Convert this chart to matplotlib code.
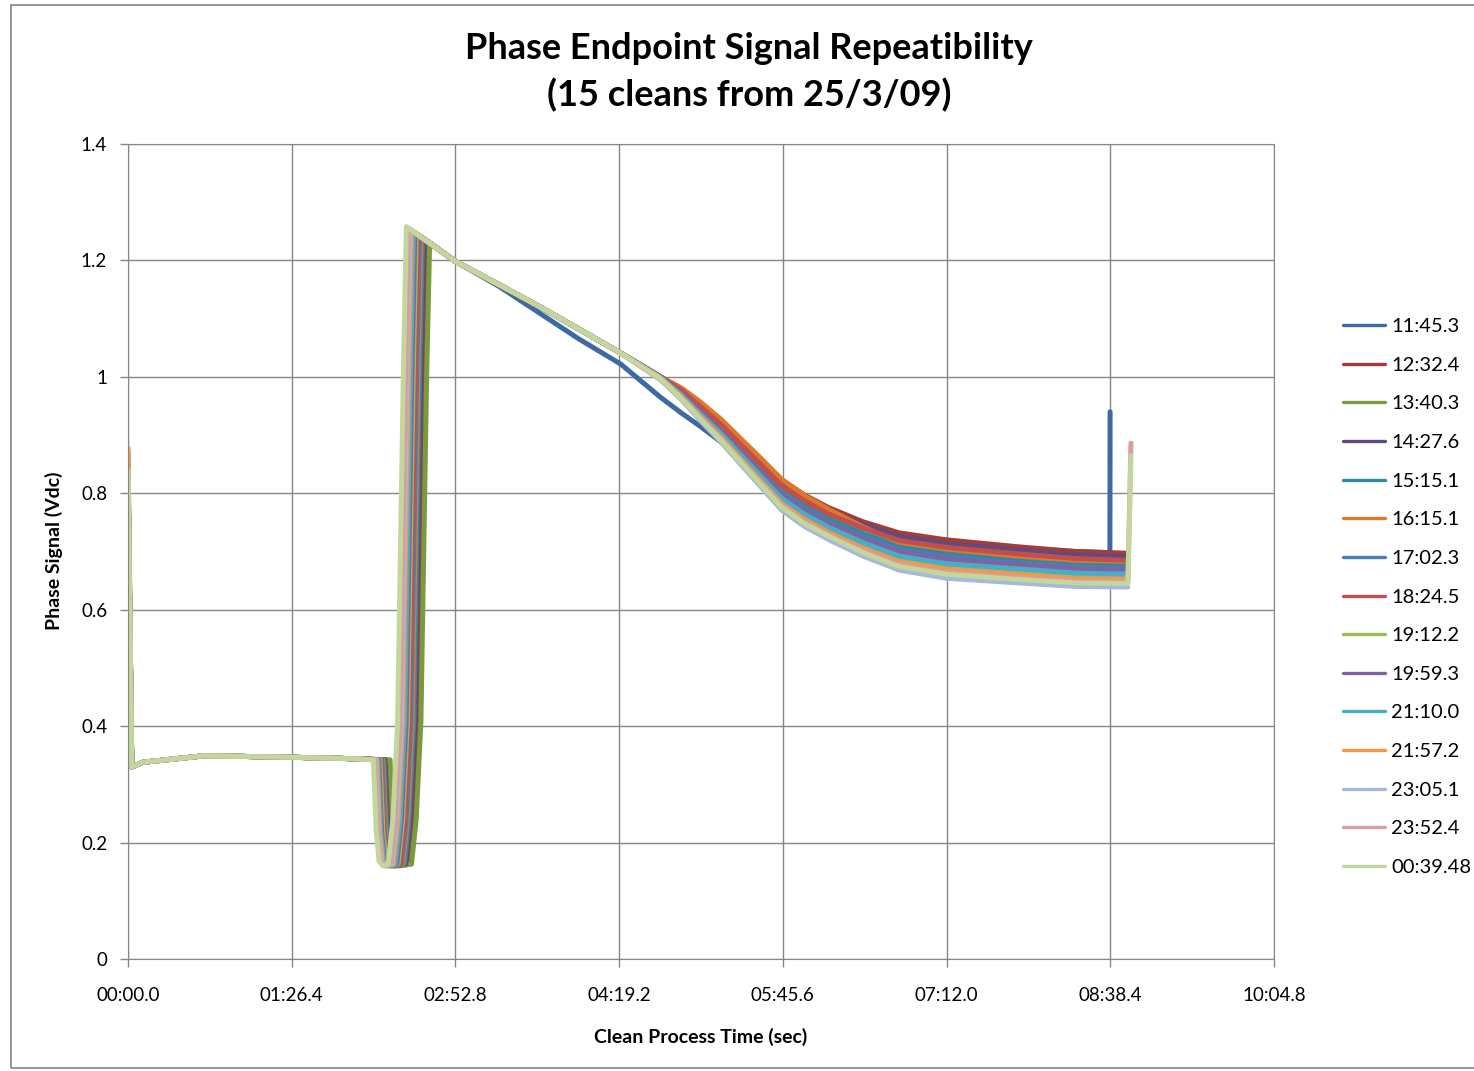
import matplotlib.pyplot as plt
from matplotlib.patches import Rectangle
from matplotlib.ticker import FuncFormatter, MultipleLocator

plt.rcParams['font.family'] = ['Lato', 'DejaVu Sans']

labels = ['11:45.3', '12:32.4', '13:40.3', '14:27.6', '15:15.1', '16:15.1', '17:02.3', '18:24.5',
          '19:12.2', '19:59.3', '21:10.0', '21:57.2', '23:05.1', '23:52.4', '00:39.48']
colors = ['#3d6aa4', '#a33d3a', '#7a9a3e', '#604a80', '#3189a0', '#e0782a', '#4a7ebb', '#c0504d',
          '#9bbb59', '#8064a2', '#4bacc6', '#f79646', '#a5b9da', '#d99e9c', '#c3d69b']

# first stage: spike at t=0, then the flat part (seconds / Vdc)
start_v = [0.83, 0.83, 0.835, 0.83, 0.845, 0.87, 0.83, 0.83, 0.86, 0.83, 0.845, 0.878, 0.83, 0.83, 0.84]
plateau_t = [2, 8, 40, 80, 120]
plateau_v = [0.330, 0.338, 0.349, 0.347, 0.344]

# dip and rise around 2:10 - 2:40
drop_t = [136.0, 137.0, 138.3, 135.5, 135.0, 134.5, 134.0, 133.5, 133.0, 132.3, 131.8, 131.3, 130.8, 130.2, 129.5]
rise_t = [155.3, 156.5, 157.6, 154.5, 153.8, 153.0, 152.3, 151.5, 150.5, 149.8, 149.0, 148.0, 147.3, 146.5, 145.3]
peak_v = [1.235, 1.233, 1.230, 1.237, 1.239, 1.240, 1.242, 1.244, 1.246, 1.248, 1.249, 1.252, 1.253, 1.255, 1.258]
fall_dt = [0, 1.5, 3, 5]
fall_v = [0.342, 0.22, 0.168, 0.160]
rise_dt = [-8, -5.5, -3, 0, 1.6]
rise_v = [0.163, 0.24, 0.41, 1.0]

# decay after the peak
decay_t = [173, 196, 217, 238, 260, 281, 292, 302, 313, 323, 334, 345, 357, 370, 388, 407, 432, 470, 500]
decay_v = [
    [1.198, 1.155, 1.110, 1.065, 1.022, 0.965, 0.938, 0.915, 0.888, 0.862, 0.834, 0.806, 0.784, 0.765, 0.744, 0.728, 0.717, 0.706, 0.700],
    [1.198, 1.158, 1.121, 1.082, 1.041, 1.000, 0.980, 0.955, 0.925, 0.893, 0.858, 0.823, 0.797, 0.775, 0.751, 0.732, 0.720, 0.708, 0.700],
    [1.198, 1.158, 1.121, 1.082, 1.041, 1.000, 0.972, 0.939, 0.904, 0.870, 0.832, 0.794, 0.767, 0.745, 0.719, 0.697, 0.684, 0.674, 0.667],
    [1.198, 1.158, 1.121, 1.082, 1.041, 1.000, 0.978, 0.952, 0.921, 0.889, 0.853, 0.818, 0.792, 0.770, 0.746, 0.726, 0.713, 0.702, 0.694],
    [1.198, 1.158, 1.121, 1.082, 1.041, 1.000, 0.974, 0.945, 0.912, 0.878, 0.841, 0.805, 0.778, 0.756, 0.731, 0.710, 0.697, 0.686, 0.679],
    [1.198, 1.158, 1.121, 1.082, 1.041, 1.000, 0.981, 0.957, 0.927, 0.895, 0.860, 0.824, 0.796, 0.772, 0.742, 0.716, 0.704, 0.692, 0.685],
    [1.198, 1.158, 1.121, 1.082, 1.041, 1.000, 0.973, 0.942, 0.908, 0.874, 0.837, 0.800, 0.773, 0.750, 0.724, 0.703, 0.690, 0.680, 0.673],
    [1.198, 1.158, 1.121, 1.082, 1.041, 1.000, 0.977, 0.949, 0.918, 0.885, 0.849, 0.813, 0.787, 0.764, 0.740, 0.719, 0.707, 0.696, 0.688],
    [1.198, 1.158, 1.121, 1.082, 1.041, 0.998, 0.968, 0.934, 0.899, 0.864, 0.825, 0.787, 0.760, 0.737, 0.710, 0.687, 0.674, 0.665, 0.658],
    [1.198, 1.158, 1.121, 1.082, 1.041, 1.000, 0.972, 0.940, 0.906, 0.872, 0.835, 0.797, 0.770, 0.748, 0.722, 0.700, 0.687, 0.677, 0.670],
    [1.198, 1.158, 1.121, 1.082, 1.041, 0.999, 0.969, 0.936, 0.902, 0.867, 0.829, 0.791, 0.764, 0.741, 0.715, 0.692, 0.679, 0.670, 0.663],
    [1.198, 1.158, 1.121, 1.082, 1.041, 0.998, 0.966, 0.932, 0.896, 0.860, 0.821, 0.782, 0.755, 0.732, 0.705, 0.682, 0.669, 0.660, 0.653],
    [1.198, 1.158, 1.121, 1.082, 1.041, 0.995, 0.961, 0.925, 0.888, 0.851, 0.811, 0.771, 0.743, 0.720, 0.692, 0.668, 0.654, 0.646, 0.640],
    [1.198, 1.158, 1.121, 1.082, 1.041, 0.996, 0.964, 0.930, 0.893, 0.857, 0.818, 0.779, 0.751, 0.728, 0.701, 0.678, 0.664, 0.655, 0.649],
    [1.198, 1.158, 1.121, 1.082, 1.041, 0.997, 0.963, 0.928, 0.891, 0.855, 0.815, 0.776, 0.748, 0.726, 0.698, 0.674, 0.661, 0.652, 0.646],
]
end_t = [518.2] + [527.7] * 14
end_v = [0.698, 0.697, 0.665, 0.691, 0.677, 0.683, 0.671, 0.685, 0.656, 0.668, 0.661, 0.652, 0.639, 0.648, 0.645]
tail_t = [518.3, None, None, None, None, None, None, None, None, None, None, None, None, 529.3, 529.3]
tail_v = [0.940, None, None, None, None, None, None, None, None, None, None, None, None, 0.886, 0.865]

fig = plt.figure(figsize=(14.74, 10.71), dpi=100)
ax = fig.add_axes([128 / 1474, 1 - 959 / 1071, 1146 / 1474, 815 / 1071])

for i, lab in enumerate(labels):
    t = [0] + plateau_t + [drop_t[i] + d for d in fall_dt] + [rise_t[i] + d for d in rise_dt] + decay_t + [end_t[i]]
    v = [start_v[i]] + plateau_v + fall_v + rise_v + [peak_v[i]] + decay_v[i] + [end_v[i]]
    if tail_t[i] is not None:
        t.append(tail_t[i])
        v.append(tail_v[i])
    ax.plot(t, v, color=colors[i], lw=3.6, label=lab, solid_joinstyle='round', solid_capstyle='round')

grid_c = '#868686'
ax.set_xlim(0, 604.8)
ax.set_ylim(0, 1.4)
ax.xaxis.set_major_locator(MultipleLocator(86.4))
ax.yaxis.set_major_locator(MultipleLocator(0.2))


def mmss(s, pos):
    m = int(round(s, 1) // 60)
    return f'{m:02d}:{s - 60 * m:04.1f}'


ax.xaxis.set_major_formatter(FuncFormatter(mmss))
ax.yaxis.set_major_formatter(FuncFormatter(lambda y, p: f'{y:g}'))
ax.grid(True, color=grid_c, lw=1)
ax.set_axisbelow(True)
for s in ax.spines.values():
    s.set_color(grid_c)
ax.tick_params(direction='out', length=6, width=1, color=grid_c, labelsize=13.5, labelcolor='black')
ax.tick_params(axis='x', pad=14)
ax.tick_params(axis='y', pad=9)

fig.text(0.508, 1 - 72 / 1071, 'Phase Endpoint Signal Repeatibility\n(15 cleans from 25/3/09)',
         ha='center', va='center', fontsize=26, fontweight='bold', linespacing=1.45)
fig.text(701 / 1474, 1 - 1037 / 1071, 'Clean Process Time (sec)', ha='center', va='center',
         fontsize=14, fontweight='bold')
fig.text(54 / 1474, 1 - 551 / 1071, 'Phase Signal (Vdc)', ha='center', va='center',
         rotation=90, fontsize=14, fontweight='bold')

leg = fig.legend(loc='center left', bbox_to_anchor=(1333 / 1474, 1 - 597 / 1071), frameon=False,
                 fontsize=14.5, handlelength=2.1, handletextpad=0.3, labelspacing=1.07, borderpad=0)
for ln in leg.get_lines():
    ln.set_linewidth(2.4)

fig.patches.append(Rectangle((11 / 1474, 3 / 1071), 1.2, 1063 / 1071, transform=fig.transFigure,
                             fill=False, edgecolor='#8c8c8c', lw=1.3))

fig.savefig('out.png', dpi=100)
